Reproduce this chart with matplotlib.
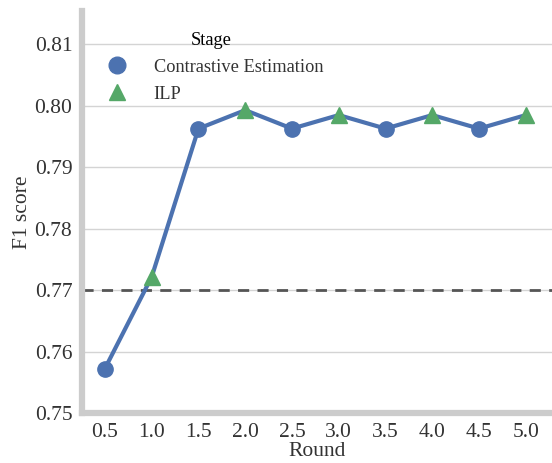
import matplotlib
matplotlib.use("Agg")
import matplotlib.pyplot as plt
from matplotlib.lines import Line2D

# data
rounds = [0.5, 1.0, 1.5, 2.0, 2.5, 3.0, 3.5, 4.0, 4.5, 5.0]
f1 = [0.7573, 0.7722, 0.7963, 0.7993, 0.7963, 0.7985, 0.7963, 0.7985, 0.7963, 0.7985]
stage = ["Contrastive Estimation", "ILP"] * 5
baseline = 0.770

blue = "#4C72B0"
green = "#55A868"

plt.rcParams["font.family"] = ["Liberation Serif", "DejaVu Serif"]

fig = plt.figure(figsize=(5.52, 4.63), dpi=100)
ax = fig.add_axes([0.1486, 0.107, 0.8514, 0.869])

ax.plot(rounds, f1, color=blue, lw=3, zorder=3)
for name, col, mk in [("Contrastive Estimation", blue, "o"), ("ILP", green, "^")]:
    xs = [r for r, s in zip(rounds, stage) if s == name]
    ys = [v for v, s in zip(f1, stage) if s == name]
    ax.plot(xs, ys, ls="none", marker=mk, color=col, ms=11, zorder=4)

ax.axhline(baseline, color="#555555", ls="--", lw=2, dashes=(4, 3), zorder=2)

ax.set_xlim(0.255, 5.28)
ax.set_ylim(0.75, 0.8154)
ax.set_xticks(rounds)
ax.set_xticklabels([f"{r:.1f}" for r in rounds])
ax.set_yticks([0.75, 0.76, 0.77, 0.78, 0.79, 0.80, 0.81])
ax.set_yticklabels(["0.75", "0.76", "0.77", "0.78", "0.79", "0.80", "0.81"])
ax.tick_params(axis="y", length=0, labelsize=15.5, colors="#333333", pad=7)
ax.tick_params(axis="x", length=0, labelsize=15.5, colors="#333333", pad=7)
ax.yaxis.grid(True, color="#d4d4d4", lw=1)
ax.set_axisbelow(True)

for s in ["top", "right"]:
    ax.spines[s].set_visible(False)
for s in ["left", "bottom"]:
    ax.spines[s].set_color("#cccccc")
    ax.spines[s].set_linewidth(4.5)

ax.set_xlabel("Round", fontsize=15.5, color="#333333", labelpad=0)
ax.set_ylabel("F1 score", fontsize=15.5, color="#333333", labelpad=2)

handles = [
    Line2D([], [], ls="none", marker="o", color=blue, ms=12),
    Line2D([], [], ls="none", marker="^", color=green, ms=12),
]
leg = ax.legend(handles, ["Contrastive Estimation", "ILP"], title="Stage",
                loc="upper left", bbox_to_anchor=(0.0, 0.99), frameon=False,
                fontsize=13.2, title_fontsize=13.2, handletextpad=1.0,
                labelspacing=0.55)
for t in leg.get_texts():
    t.set_color("#333333")

fig.savefig("out.png", dpi=100)
